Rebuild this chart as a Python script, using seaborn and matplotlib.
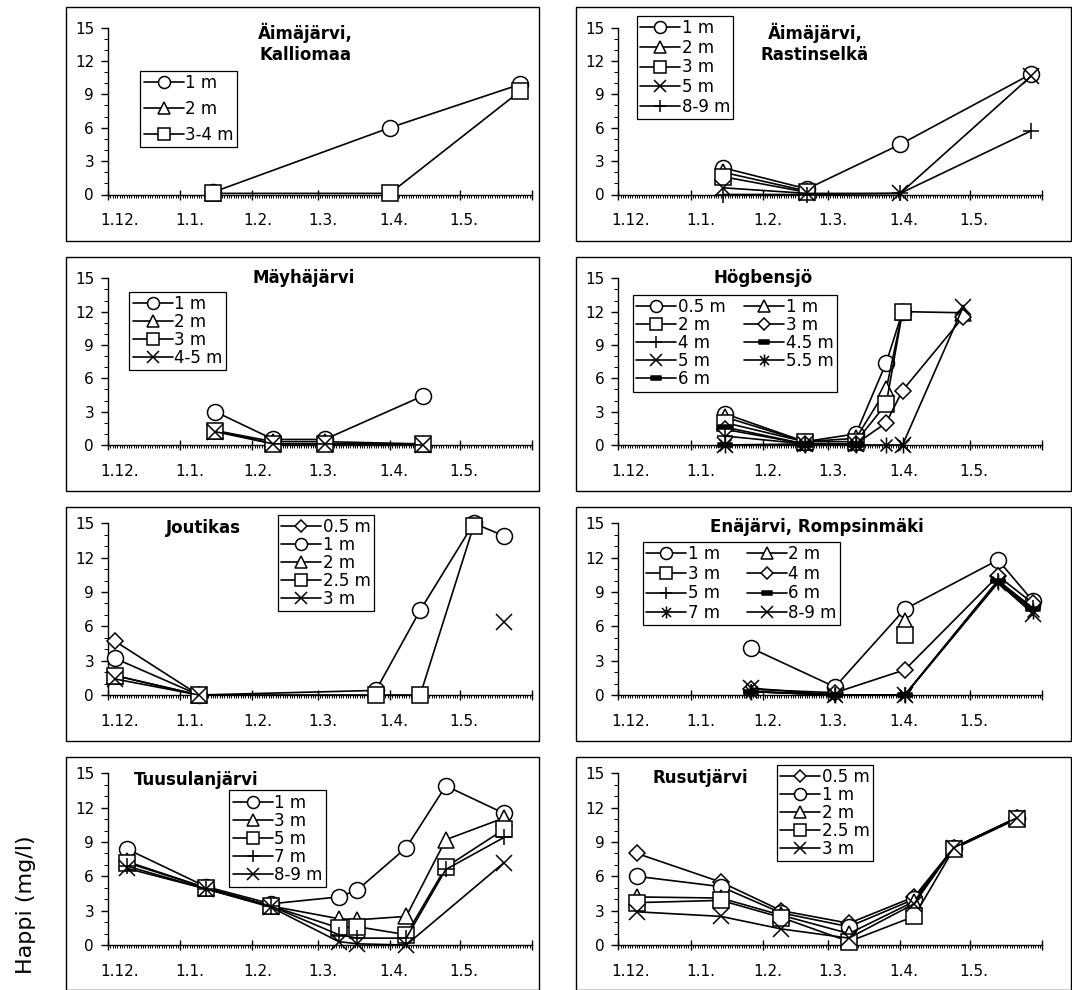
import datetime as dt
import numpy as np
import matplotlib
matplotlib.use("Agg")
import matplotlib.pyplot as plt
from matplotlib.lines import Line2D
from matplotlib.patches import Rectangle
from matplotlib.path import Path
import matplotlib.transforms as mtransforms
import seaborn as sns

NA = float("nan")   # not measured: line is broken at this date
# None = not measured for this depth, line continues straight past the date

# ---------------- data ----------------
kalliomaa_dates = ["15.1.", "1.4.", "27.5."]
kalliomaa_1m = [0.2, 6.0, 9.9]
kalliomaa_2m = [0.1, NA, NA]
kalliomaa_3_4m = [0.1, 0.1, 9.3]

rastinselka_dates = ["15.1.", "20.2.", "1.4.", "27.5."]
rastinselka_1m = [2.4, 0.5, 4.5, 10.8]
rastinselka_2m = [2.0, 0.3, NA, NA]
rastinselka_3m = [1.6, 0.2, NA, NA]
rastinselka_5m = [0.6, 0.1, 0.1, 10.6]
rastinselka_8_9m = [0.0, 0.0, 0.1, 5.7]

mayha_dates = ["16.1.", "10.2.", "4.3.", "15.4."]
mayha_1m = [3.0, 0.5, 0.5, 4.4]
mayha_2m = [1.3, 0.3, 0.3, 0.1]
mayha_3m = [1.3, 0.1, 0.1, 0.1]
mayha_4_5m = [1.2, 0.1, 0.1, 0.0]

hogben_dates = ["16.1.", "19.2.", "13.3.", "26.3.", "2.4.", "28.4."]
hogben_05m = [2.8, 0.3, 1.0, 7.4, 12.0, NA]
hogben_1m = [2.5, 0.3, 0.6, 5.0, 12.0, 11.9]
hogben_2m = [2.0, 0.3, 0.3, 3.7, 12.0, NA]
hogben_3m = [1.4, 0.1, 0.1, 2.0, 4.9, 11.5]
hogben_4m = [0.8, 0.1, 0.1, NA, NA, NA]
hogben_45m = [1.6, 0.1, 0.1, NA, NA, NA]
hogben_5m = [0.0, 0.1, 0.1, NA, 0.0, 12.4]
hogben_55m = [0.0, 0.0, 0.0, 0.0, 0.0, NA]
hogben_6m = [0.0, 0.0, 0.0, NA, NA, NA]

joutikas_dates = ["4.12.", "9.1.", "26.3.", "14.4.", "7.5.", "20.5."]
joutikas_05m = [4.7, 0.0, NA, NA, NA, NA]
joutikas_1m = [3.2, 0.0, 0.4, 7.4, 15.0, 13.9]
joutikas_2m = [1.7, 0.0, NA, NA, NA, NA]
joutikas_25m = [1.7, 0.0, 0.0, 0.0, 14.8, NA]
joutikas_3m = [1.4, 0.0, NA, NA, NA, 6.4]

enajarvi_dates = ["27.1.", "4.3.", "3.4.", "13.5.", "28.5."]
enajarvi_1m = [4.1, 0.7, 7.5, 11.8, 8.2]
enajarvi_2m = [NA, NA, 6.5, NA, NA]
enajarvi_3m = [NA, NA, 5.2, NA, NA]
enajarvi_4m = [0.5, 0.2, 2.2, 10.4, 8.0]
enajarvi_5m = [0.3, 0.0, 0.0, 10.0, 7.6]
enajarvi_6m = [0.3, 0.0, 0.0, 10.0, 7.5]
enajarvi_7m = [0.3, 0.0, 0.0, 9.9, 7.3]
enajarvi_8_9m = [0.6, 0.0, 0.0, 9.8, 7.1]

tuusula_dates = ["9.12.", "12.1.", "9.2.", "10.3.", "18.3.", "8.4.", "25.4.", "20.5."]
tuusula_1m = [8.4, 5.1, 3.6, 4.2, 4.8, 8.5, 13.9, 11.5]
tuusula_3m = [7.3, 5.0, 3.4, 2.3, 2.2, 2.5, 9.2, 11.1]
tuusula_5m = [7.2, 5.0, 3.4, 1.5, 1.6, 0.9, 6.8, 10.1]
tuusula_7m = [6.9, 4.9, 3.4, 0.9, 0.6, 0.6, 6.6, 9.4]
tuusula_8_9m = [6.7, 4.9, 3.3, 0.3, 0.1, 0.0, None, 7.2]

rusut_dates = ["9.12.", "14.1.", "9.2.", "10.3.", "7.4.", "24.4.", "21.5."]
rusut_05m = [8.0, 5.5, 3.0, 1.9, 4.2, 8.5, 11.1]
rusut_1m = [6.0, 5.1, 2.8, 1.6, 4.0, 8.5, 11.1]
rusut_2m = [4.2, 4.1, 2.6, 1.0, 3.8, 8.5, 11.1]
rusut_25m = [3.7, 3.9, 2.4, 0.3, 2.5, 8.4, 11.0]
rusut_3m = [2.9, 2.5, 1.4, 0.6, 3.6, 8.5, 11.1]

month_ticks = ["1.12.", "1.1.", "1.2.", "1.3.", "1.4.", "1.5.", "1.6."]
month_labels = ["1.12.", "1.1.", "1.2.", "1.3.", "1.4.", "1.5.", ""]
y_ticks = [0, 3, 6, 9, 12, 15]
y_label = "Happi (mg/l)"

# ---------------- helpers ----------------
START = dt.date(2001, 12, 1)


def day(s):
    d, m = [int(p) for p in s.strip(".").split(".")]
    y = 2001 if m == 12 else 2002
    return (dt.date(y, m, d) - START).days


ASTER = Path([(0, -1), (0, 1), (-0.75, -0.75), (0.75, 0.75), (-0.75, 0.75), (0.75, -0.75)],
             [Path.MOVETO, Path.LINETO, Path.MOVETO, Path.LINETO, Path.MOVETO, Path.LINETO])
DASH = Path([(-1, -0.3), (1, -0.3), (1, 0.3), (-1, 0.3), (-1, -0.3)],
            [Path.MOVETO, Path.LINETO, Path.LINETO, Path.LINETO, Path.CLOSEPOLY])

MK = {
    "o": dict(marker="o", markersize=11.5, markerfacecolor="white"),
    "^": dict(marker="^", markersize=11.5, markerfacecolor="white"),
    "s": dict(marker="s", markersize=11.0, markerfacecolor="white"),
    "D": dict(marker="D", markersize=8.0, markerfacecolor="white"),
    "x": dict(marker="x", markersize=11.0),
    "+": dict(marker="+", markersize=12.0),
    "*": dict(marker=ASTER, markersize=11.5),
    "-": dict(marker=DASH, markersize=10.0, markerfacecolor="black"),
}
LW = 1.2
MEW = 1.1

PANELS = [
    dict(title="Äimäjärvi,\nKalliomaa", tpos=(0.465, 0.905), dates=kalliomaa_dates,
         series=[("1 m", "o", kalliomaa_1m), ("2 m", "^", kalliomaa_2m), ("3-4 m", "s", kalliomaa_3_4m)],
         leg=dict(anchor=(0.076, 0.741), ls=0.48, ncol=1)),
    dict(title="Äimäjärvi,\nRastinselkä", tpos=(0.464, 0.905), dates=rastinselka_dates,
         series=[("1 m", "o", rastinselka_1m), ("2 m", "^", rastinselka_2m), ("3 m", "s", rastinselka_3m),
                 ("5 m", "x", rastinselka_5m), ("8-9 m", "+", rastinselka_8_9m)],
         leg=dict(anchor=(0.043, 1.07), ls=0.1, ncol=1)),
    dict(title="Mäyhäjärvi", tpos=(0.461, 1.0), dates=mayha_dates,
         series=[("1 m", "o", mayha_1m), ("2 m", "^", mayha_2m), ("3 m", "s", mayha_3m), ("4-5 m", "x", mayha_4_5m)],
         leg=dict(anchor=(0.05, 0.92), ls=0.0, ncol=1)),
    dict(title="Högbensjö", tpos=(0.342, 1.0), dates=hogben_dates,
         series=[("0.5 m", "o", hogben_05m), ("1 m", "^", hogben_1m), ("2 m", "s", hogben_2m), ("3 m", "D", hogben_3m),
                 ("4 m", "+", hogben_4m), ("4.5 m", "-", hogben_45m), ("5 m", "x", hogben_5m),
                 ("5.5 m", "*", hogben_55m), ("6 m", "-", hogben_6m)],
         leg=dict(anchor=(0.035, 0.90), ls=0.0, ncol=2, cs=1.1, order=[0, 2, 4, 6, 8, 1, 3, 5, 7])),
    dict(title="Joutikas", tpos=(0.226, 0.974), dates=joutikas_dates,
         series=[("0.5 m", "D", joutikas_05m), ("1 m", "o", joutikas_1m), ("2 m", "^", joutikas_2m),
                 ("2.5 m", "s", joutikas_25m), ("3 m", "x", joutikas_3m)],
         leg=dict(anchor=(0.40, 1.05), ls=0.0, ncol=1)),
    dict(title="Enäjärvi, Rompsinmäki", tpos=(0.468, 0.98), dates=enajarvi_dates,
         series=[("1 m", "o", enajarvi_1m), ("2 m", "^", enajarvi_2m), ("3 m", "s", enajarvi_3m), ("4 m", "D", enajarvi_4m),
                 ("5 m", "+", enajarvi_5m), ("6 m", "-", enajarvi_6m), ("7 m", "*", enajarvi_7m), ("8-9 m", "x", enajarvi_8_9m)],
         leg=dict(anchor=(0.058, 0.893), ls=0.1, ncol=2, cs=1.6, order=[0, 2, 4, 6, 1, 3, 5, 7])),
    dict(title="Tuusulanjärvi", tpos=(0.207, 0.96), dates=tuusula_dates,
         series=[("1 m", "o", tuusula_1m), ("3 m", "^", tuusula_3m), ("5 m", "s", tuusula_5m),
                 ("7 m", "+", tuusula_7m), ("8-9 m", "x", tuusula_8_9m)],
         leg=dict(anchor=(0.286, 0.90), ls=0.0, ncol=1)),
    dict(title="Rusutjärvi", tpos=(0.193, 0.97), dates=rusut_dates,
         series=[("0.5 m", "D", rusut_05m), ("1 m", "o", rusut_1m), ("2 m", "^", rusut_2m),
                 ("2.5 m", "s", rusut_25m), ("3 m", "x", rusut_3m)],
         leg=dict(anchor=(0.374, 1.05), ls=0.0, ncol=1)),
]

# ---------------- layout (pixels) ----------------
W, H = 1072, 990
BOX_X = [66, 576]
BOX_W = [473, 495]
BOX_Y = [6.7, 256.7, 506.7, 756.7]
BOX_H = [234, 234, 234, 232.8]
AX_TOP = [27.5, 278.3, 523.3, 773.3]
AX_BOT = [194.5, 445, 695, 945]
AX_X = [108, 618.3]
AX_W = 424
LABEL_SHIFT = [12, 10, 5, 5, 4, 4, 0]   # px, x tick labels sit a bit right of their ticks

sns.set_theme(style="white")
plt.rcParams["font.family"] = ["DejaVu Sans"]
plt.rcParams["axes.linewidth"] = 1.0
plt.rcParams["text.color"] = "black"
plt.rcParams["axes.labelcolor"] = "black"
plt.rcParams["xtick.color"] = "black"
plt.rcParams["ytick.color"] = "black"
plt.rcParams["legend.labelcolor"] = "black"

fig = plt.figure(figsize=(W / 100, H / 100), dpi=100)

for i, p in enumerate(PANELS):
    r, c = divmod(i, 2)
    # outer chart frame
    fig.patches.append(Rectangle((BOX_X[c] / W, 1 - (BOX_Y[r] + BOX_H[r]) / H), BOX_W[c] / W, BOX_H[r] / H,
                                 transform=fig.transFigure, fill=False, ec="black", lw=1.0))
    bottom = 1 - AX_BOT[r] / H
    ax = fig.add_axes([AX_X[c] / W, bottom, AX_W / W, (AX_BOT[r] - AX_TOP[r]) / H])
    ax.patch.set_alpha(0)

    xs = [day(d) for d in p["dates"]]
    handles = []
    for label, mk, vals in p["series"]:
        kws = dict(MK[mk])
        kws.setdefault("markerfacecolor", "white")
        segs, sx, sy = [], [], []
        for x, v in zip(xs, vals):
            if v is None:
                continue
            if np.isnan(v):
                if sx:
                    segs.append((sx, sy))
                sx, sy = [], []
                continue
            sx.append(x)
            sy.append(v)
        if sx:
            segs.append((sx, sy))
        for gx, gy in segs:
            sns.lineplot(x=gx, y=gy, ax=ax, estimator=None, sort=False, legend=False,
                         color="black", linewidth=LW, clip_on=False, zorder=3,
                         markeredgecolor="black", markeredgewidth=MEW, **kws)
        handles.append(Line2D([], [], color="black", linewidth=LW, markeredgecolor="black",
                              markeredgewidth=MEW, label=label, **kws))

    ax.set_xlim(0, day("1.6."))
    ax.set_ylim(0, 15)
    ax.set_xticks([day(t) for t in month_ticks])
    ax.set_xticklabels(month_labels)
    ax.set_xticks(range(0, day("1.6.") + 1), minor=True)
    ax.set_yticks(y_ticks)
    ax.set_yticks(range(0, 16), minor=True)
    ax.set_xlabel("")
    ax.set_ylabel("")
    for s in ("top", "right"):
        ax.spines[s].set_visible(False)
    for s in ("left", "bottom"):
        ax.spines[s].set_color("black")
        ax.spines[s].set_linewidth(1.0)
    ax.tick_params(axis="x", which="major", direction="inout", length=7, width=1.0, pad=10,
                   labelsize=11, colors="black", bottom=True)
    ax.tick_params(axis="x", which="minor", direction="out", length=2.5, width=0.7, bottom=True)
    ax.tick_params(axis="y", which="major", direction="out", length=5, width=1.0, pad=5,
                   labelsize=11, colors="black", left=True)
    ax.tick_params(axis="y", which="minor", direction="out", length=3, width=0.7, left=True)
    for lab, sh in zip(ax.get_xticklabels(), LABEL_SHIFT):
        lab.set_transform(lab.get_transform() + mtransforms.ScaledTranslation(sh / 100, 0, fig.dpi_scale_trans))

    ax.text(p["tpos"][0], p["tpos"][1], p["title"], transform=ax.transAxes, ha="center", va="center",
            fontsize=12, fontweight="bold", linespacing=1.15, color="black")

    lg = p["leg"]
    order = lg.get("order", list(range(len(handles))))
    leg = ax.legend(handles=[handles[k] for k in order], loc="upper left", bbox_to_anchor=lg["anchor"],
                    ncol=lg["ncol"], fontsize=12, frameon=True, fancybox=False, framealpha=1,
                    edgecolor="black", borderpad=0.2, borderaxespad=0, handlelength=2.4,
                    handletextpad=0.1, labelspacing=lg["ls"], columnspacing=lg.get("cs", 0.6),
                    markerscale=0.75)
    leg.get_frame().set_linewidth(0.9)
    for t in leg.get_texts():
        t.set_color("black")
    leg.set_zorder(5)

fig.text(26 / W, 1 - 905 / H, y_label, rotation=90, ha="center", va="center", fontsize=16, color="black")

fig.savefig("out.png", dpi=100)
